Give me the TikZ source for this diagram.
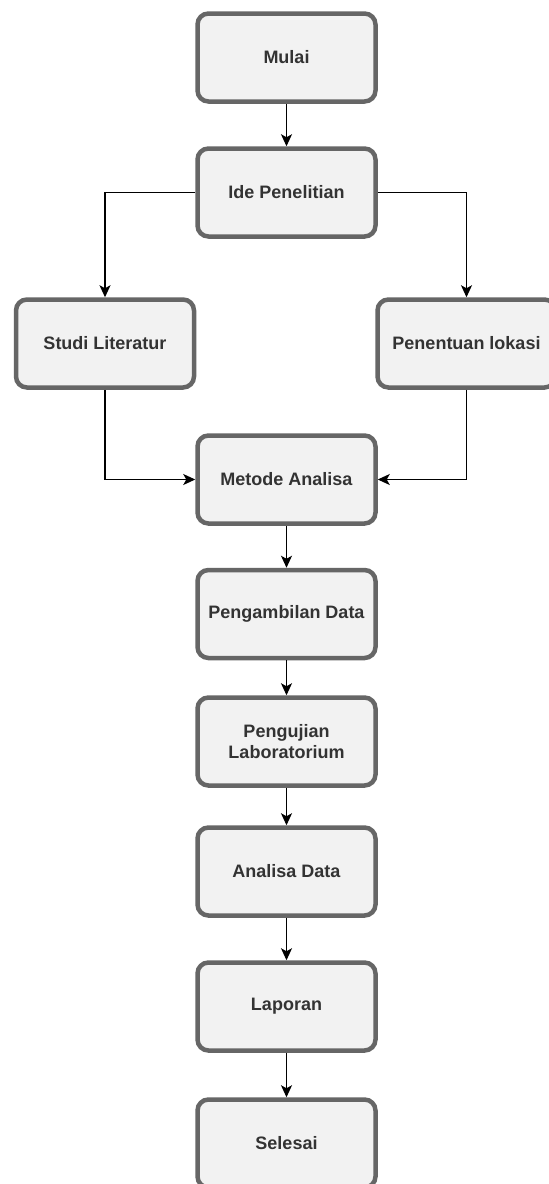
\documentclass[tikz,border=0pt]{standalone}
\usepackage{fontspec}
\setmainfont{Liberation Sans}
\usetikzlibrary{arrows.meta}
\definecolor{boxfill}{HTML}{F2F2F2}
\definecolor{boxline}{HTML}{666666}
\definecolor{boxtext}{HTML}{333333}
\tikzset{
  flowbox/.style={draw=boxline, fill=boxfill, line width=4.5pt, rounded corners=11pt,
    minimum width=178pt, minimum height=88pt, inner sep=0pt, align=center,
    text=boxtext, font=\fontsize{18}{21.5}\selectfont\bfseries},
  conn/.style={draw=black, line width=1.4pt, -{Stealth[length=12pt,width=11pt,inset=3pt]}}
}
\begin{document}
\begin{tikzpicture}[x=1pt,y=-1pt]
\useasboundingbox[fill=white] (0,0) rectangle (549,1184);
\node[flowbox] (mulai) at (286.5,57.5) {Mulai};
\node[flowbox] (ide) at (286.5,192.5) {Ide Penelitian};
\node[flowbox] (studi) at (105,343.5) {Studi Literatur};
\node[flowbox] (lokasi) at (466.5,343.5) {Penentuan lokasi};
\node[flowbox] (metode) at (286.5,479.5) {Metode Analisa};
\node[flowbox] (ambil) at (286.5,614) {Pengambilan Data};
\node[flowbox] (uji) at (286.5,741.5) {Pengujian\\Laboratorium};
\node[flowbox] (analisa) at (286.5,871.5) {Analisa Data};
\node[flowbox] (laporan) at (286.5,1006.5) {Laporan};
\node[flowbox] (selesai) at (286.5,1143.5) {Selesai};
\draw[conn] (mulai) -- (ide);
\draw[conn] (ide.west) -| (studi.north);
\draw[conn] (ide.east) -| (lokasi.north);
\draw[conn] (studi.south) |- (metode.west);
\draw[conn] (lokasi.south) |- (metode.east);
\draw[conn] (metode) -- (ambil);
\draw[conn] (ambil) -- (uji);
\draw[conn] (uji) -- (analisa);
\draw[conn] (analisa) -- (laporan);
\draw[conn] (laporan) -- (selesai);
\end{tikzpicture}
\end{document}
